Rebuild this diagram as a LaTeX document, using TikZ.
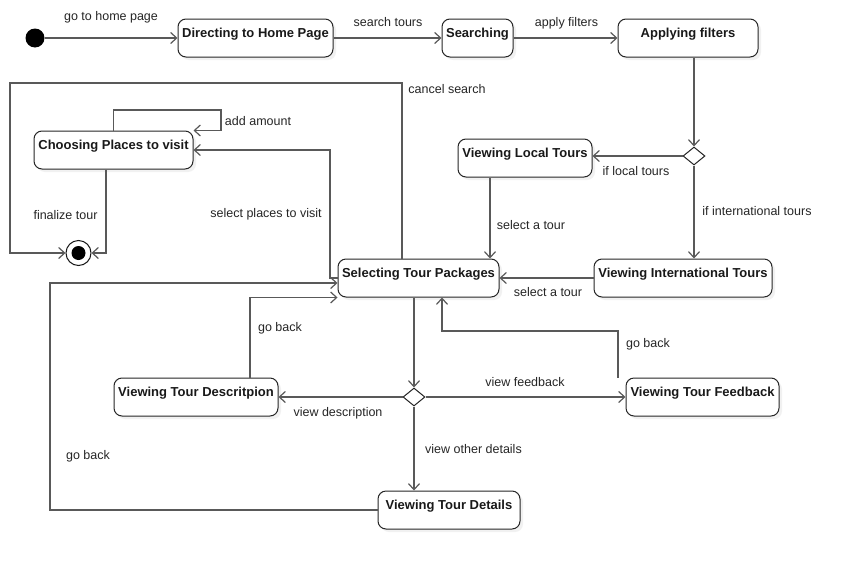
\documentclass[tikz,border=0pt]{standalone}
\usepackage{fontspec}
\setmainfont{Liberation Sans}
\usetikzlibrary{arrows.meta,shapes.geometric,shadows}
\begin{document}
\begin{tikzpicture}[x=1pt,y=-1pt,
  state/.style={draw=black!85, rounded corners=8pt, line width=1pt, fill=white,
    font=\bfseries\fontsize{13}{15}\selectfont, text=black!90,
    inner xsep=0pt, inner ysep=0pt, text height=18pt, text depth=20pt,
    drop shadow={shadow xshift=3pt, shadow yshift=-3pt, fill=black!10}},
  choice/.style={diamond, draw=black!85, line width=1pt, fill=white,
    minimum width=22pt, minimum height=18pt, inner sep=0pt},
  edge/.style={draw=black!65, line width=1.2pt, line join=miter,
    -{Straight Barb[length=6pt,width=11pt]}},
  lbl/.style={font=\fontsize{12.5}{14}\selectfont, text=black!85, inner sep=0pt, anchor=base}
]
\useasboundingbox[fill=white] (0,0) rectangle (853,570);

% start / end
\node[circle, fill=black, minimum size=19pt, inner sep=0pt] (init) at (35,38) {};
\node[circle, draw=black!90, line width=1pt, fill=white, minimum size=25pt, inner sep=0pt] (final) at (78.5,253) {};
\fill[black] (final.center) circle (7pt);

% states
\node[state, minimum width=155pt] (home) at (255.5,38) {Directing to Home Page};
\node[state, minimum width=71pt] (search) at (477.5,38) {Searching};
\node[state, minimum width=140pt] (apply) at (688,38) {Applying filters};
\node[state, minimum width=134pt] (local) at (525,158) {Viewing Local Tours};
\node[state, minimum width=178pt] (intl) at (683,278) {Viewing International Tours};
\node[state, minimum width=161pt] (select) at (418.5,278) {Selecting Tour Packages};
\node[state, minimum width=159pt] (choose) at (113.5,150) {Choosing Places to visit};
\node[state, minimum width=164pt] (desc) at (196,397) {Viewing Tour Descritpion};
\node[state, minimum width=153pt] (feed) at (702.5,397) {Viewing Tour Feedback};
\node[state, minimum width=142pt] (details) at (449,510) {Viewing Tour Details};

% decisions
\node[choice] (d1) at (694,156) {};
\node[choice] (d2) at (414,397) {};

% bend points
\coordinate (cs1) at (402,83);
\coordinate (cs2) at (10,83);
\coordinate (sp1) at (330,278);
\coordinate (aa1) at (221,110);
\coordinate (gb1) at (50,510);
\coordinate (fb1) at (442,331);

% connectors
\draw[edge] (init) -- (init -| home.west);
\draw[edge] (home) -- (search);
\draw[edge] (search) -- (apply);
\draw[edge] (apply.south -| d1) -- (d1.north);
\draw[edge] (d1.west) -- (d1.west -| local.east);
\draw[edge] (d1.south) -- (d1 |- intl.north);
\draw[edge] ([xshift=-35pt]local.south) -- ([xshift=-35pt]local.south |- select.north);
\draw[edge] (intl.west) -- (intl.west -| select.east);
\draw[edge] ([xshift=-16.5pt]select.north) -- (cs1) -- (cs2) |- (final.west);
\draw[edge] (select.west) -- (sp1) |- (choose.east);
\draw[edge] (choose.north) |- (aa1) |- (choose.north east);
\draw[edge] ([xshift=-7.5pt]choose.south) |- (final.east);
\draw[edge] (select.south -| d2) -- (d2.north);
\draw[edge] (d2.west) -- (d2.west -| desc.east);
\draw[edge] (d2.east) -- (d2.east -| feed.west);
\draw[edge] (d2.south) -- (d2 |- details.north);
\draw[edge] ([xshift=54pt]desc.north) |- (select.south west);
\draw[edge] (details.west) -- (gb1) |- ([yshift=-5pt]select.west);
\draw[edge] ([xshift=-84.5pt]feed.north) |- (fb1) -- (fb1 |- select.south);

% labels
\node[lbl] at (111,20) {go to home page};
\node[lbl] at (388,27) {search tours};
\node[lbl] at (566.5,27) {apply filters};
\node[lbl] at (447,93) {cancel search};
\node[lbl] at (258,125) {add amount};
\node[lbl] at (266,217) {select places to visit};
\node[lbl] at (65.5,219) {finalize tour};
\node[lbl] at (636,175) {if local tours};
\node[lbl] at (757,215) {if international tours};
\node[lbl] at (531,229) {select a tour};
\node[lbl] at (548,296) {select a tour};
\node[lbl] at (280,331) {go back};
\node[lbl] at (338,416) {view description};
\node[lbl] at (88,459) {go back};
\node[lbl] at (525,386) {view feedback};
\node[lbl] at (648,347) {go back};
\node[lbl] at (473.5,453) {view other details};
\end{tikzpicture}
\end{document}
